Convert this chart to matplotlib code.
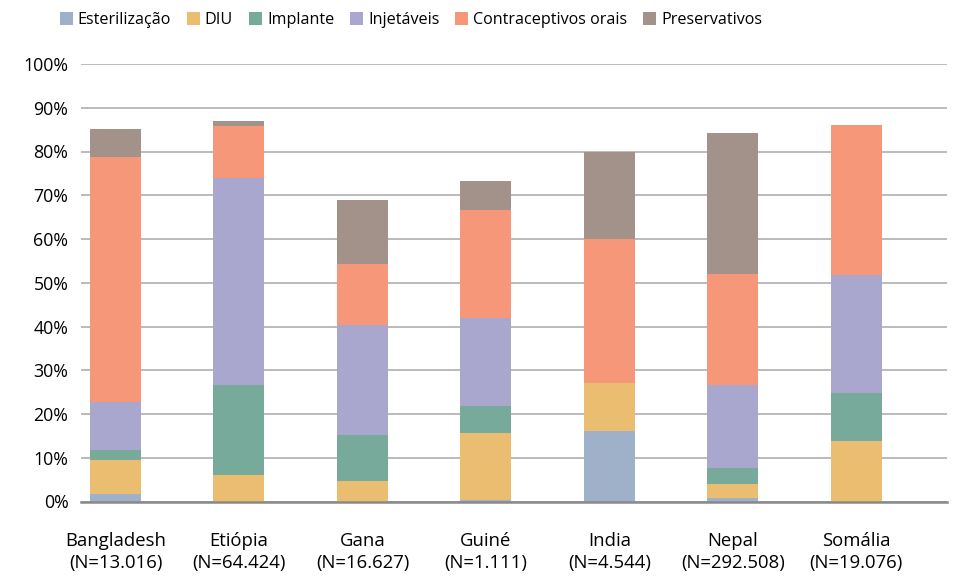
import matplotlib
matplotlib.use('Agg')
import matplotlib.pyplot as plt
import numpy as np

# Dados (% de mulheres por método)
paises = ['Bangladesh\n(N=13.016)', 'Etiópia\n(N=64.424)', 'Gana\n(N=16.627)', 'Guiné\n(N=1.111)',
          'India\n(N=4.544)', 'Nepal\n(N=292.508)', 'Somália\n(N=19.076)']
metodos = ['Esterilização', 'DIU', 'Implante', 'Injetáveis', 'Contraceptivos orais', 'Preservativos']
esterilizacao = [1.8, 0.0, 0.0, 0.3, 16.1, 0.9, 0.0]
diu = [7.6, 6.0, 4.6, 15.3, 11.0, 3.2, 13.8]
implante = [2.3, 20.6, 10.5, 6.3, 0.0, 3.5, 11.0]
injetaveis = [11.1, 47.3, 25.2, 20.1, 0.0, 19.0, 27.0]
orais = [55.9, 11.9, 14.1, 24.7, 33.0, 25.5, 34.2]
preservativos = [6.4, 1.1, 14.4, 6.5, 19.7, 32.1, 0.0]
cores = ['#9eb1c8', '#ebbd71', '#77aa9b', '#a9a7cd', '#f7977a', '#a39289']

series = [esterilizacao, diu, implante, injetaveis, orais, preservativos]

plt.rcParams['font.family'] = ['Open Sans', 'DejaVu Sans']

fig = plt.figure(figsize=(9.65, 5.87), dpi=100)
ax = fig.add_axes([81 / 965, 1 - 501.5 / 587, (947 - 81) / 965, (501.5 - 64) / 587])

x = np.arange(len(paises))
base = np.zeros(len(paises))
for nome, valores, cor in zip(metodos, series, cores):
    ax.bar(x, valores, 0.413, bottom=base, color=cor, label=nome, zorder=3)
    base += np.array(valores)

# Caractéristiques des axes
ax.set_ylim(0, 100)
ax.set_xlim(-0.279, 6.735)
ax.set_yticks(range(0, 101, 10))
ax.set_yticklabels([f'{v}%' for v in range(0, 101, 10)])
ax.set_xticks(x)
ax.set_xticklabels(paises, fontsize=13.3, linespacing=1.25)
ax.tick_params(axis='y', length=0, pad=9, labelsize=12.8)
ax.tick_params(axis='x', length=0, pad=22)
ax.grid(axis='y', color='#b5b5b5', linewidth=1.3, zorder=0)
for s in ['top', 'right', 'left']:
    ax.spines[s].set_visible(False)
ax.spines['bottom'].set_color('#898989')
ax.spines['bottom'].set_linewidth(1.8)
ax.spines['bottom'].set_zorder(4)

fig.legend(loc='center', bbox_to_anchor=(411 / 965, 1 - 20 / 587), ncol=6, frameon=False,
           fontsize=11.6, handlelength=0.8, handleheight=0.8, handletextpad=0.3, columnspacing=1.0)

fig.savefig('out.png', dpi=100)
